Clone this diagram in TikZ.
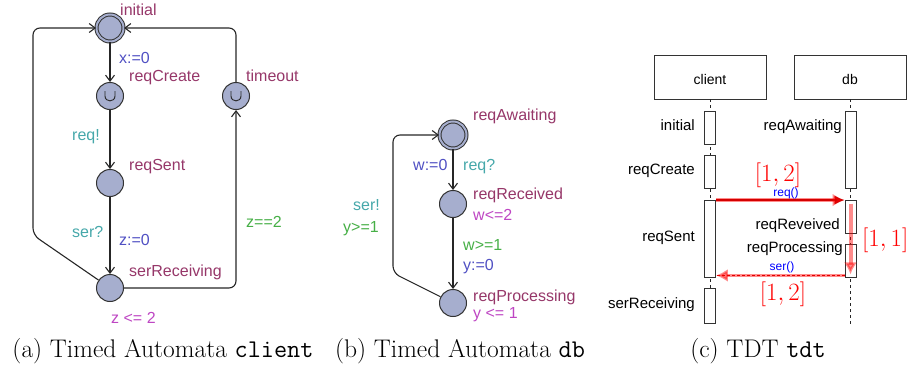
\documentclass[tikz,border=0pt]{standalone}
\usepackage{fontspec}
\newfontfamily\lsans{Liberation Sans}
\usetikzlibrary{arrows.meta}
\definecolor{locfill}{RGB}{166,174,206}
\definecolor{locname}{RGB}{150,55,105}
\definecolor{syncc}{RGB}{70,168,170}
\definecolor{assignc}{RGB}{80,80,195}
\definecolor{guardc}{RGB}{70,175,70}
\definecolor{invc}{RGB}{190,70,195}
\begin{document}
\begin{tikzpicture}[x=1pt,y=-1pt,
  loc/.style={circle,draw=black!80,fill=locfill,line width=1pt,minimum size=27pt,inner sep=0pt},
  initloc/.style={loc,double=locfill,double distance=2pt},
  edge/.style={draw=black!85,line width=1.1pt,rounded corners=7pt,-{Straight Barb[length=6pt,width=9pt]}},
  lab/.style={font=\lsans\fontsize{16}{18}\selectfont,anchor=base west,inner sep=0pt},
  nm/.style={lab,text=locname},
  sy/.style={lab,text=syncc},
  as/.style={lab,text=assignc},
  gd/.style={lab,text=guardc},
  iv/.style={lab,text=invc},
  sq/.style={font=\lsans\fontsize{15}{17}\selectfont,inner sep=0pt},
  sqr/.style={sq,anchor=base east},
  obj/.style={draw=black!80,line width=0.9pt,minimum width=112pt,minimum height=44pt,inner sep=0pt},
  act/.style={draw=black!80,fill=white,line width=0.9pt,minimum width=11pt,inner sep=0pt},
  life/.style={draw=black!85,dashed,dash pattern=on 3pt off 3pt,line width=0.8pt},
  msg/.style={font=\lsans\fontsize{12}{14}\selectfont,text=blue,anchor=base,inner sep=0pt},
  intv/.style={text=red,font=\fontsize{24}{28}\selectfont,inner sep=0pt},
  captext/.style={font=\fontsize{25.5}{28}\selectfont,anchor=base,inner sep=0pt}
]
\useasboundingbox (0,0) rectangle (907,364);
% ---------- (a) client ----------
\node[initloc] (ini) at (110,28) {};
\node[loc] (rc) at (110,96) {};
\node[loc] (to) at (236,96) {};
\node[loc] (rs) at (110,183) {};
\node[loc] (sr) at (110,288) {};
\foreach \n in {rc,to}{
  \draw[line width=0.9pt,black!85] ([xshift=-5pt,yshift=5pt]\n.center) -- ([xshift=-5pt]\n.center)
    .. controls ([xshift=-5pt,yshift=-6.5pt]\n.center) and ([xshift=5pt,yshift=-6.5pt]\n.center) .. ([xshift=5pt]\n.center)
    -- ([xshift=5pt,yshift=5pt]\n.center);
}
\draw[edge] (ini) -- (rc);
\draw[edge] (rc) -- (rs);
\draw[edge] (rs) -- (sr);
\coordinate (la1) at (33,235);
\coordinate (la2) at (33,28);
\draw[edge] (sr) -- (la1) -- (la2) -- (ini);
\coordinate (ra1) at (236,288);
\draw[edge] (sr) -- (ra1) -- (to);
\coordinate (ra2) at (236,28);
\draw[edge] (to) -- (ra2) -- (ini);
\node[nm] (t1) at (120,15) {initial};
\node[as] (t2) at (119,63) {x:=0};
\node[nm] (t3) at (129,81) {reqCreate};
\node[nm] (t4) at (246,81) {timeout};
\node[sy] (t5) at (72,140) {req!};
\node[nm] (t6) at (129,170) {reqSent};
\node[sy] (t7) at (72,237) {ser?};
\node[as] (t8) at (119,245) {z:=0};
\node[gd] (t9) at (246,227) {z==2};
\node[nm] (t10) at (129,276) {serReceiving};
\node[iv] (t11) at (111,323) {z <= 2};
\node[captext] (capa) at (163,357) {(a) Timed Automata \texttt{client}};
% ---------- (b) db ----------
\node[initloc] (ra) at (453,135) {};
\node[loc] (rr) at (453,204) {};
\node[loc] (rp) at (453,303) {};
\draw[edge] (ra) -- (rr);
\draw[edge] (rr) -- (rp);
\coordinate (lb1) at (393,273);
\coordinate (lb2) at (393,135);
\draw[edge] (rp) -- (lb1) -- (lb2) -- (ra);
\node[nm] (u1) at (473,120) {reqAwaiting};
\node[as] (u2) at (413,170) {w:=0};
\node[sy] (u3) at (463,170) {req?};
\node[nm] (u4) at (473,199) {reqReceived};
\node[iv] (u5) at (473,220) {w<=2};
\node[gd] (u6) at (463,250) {w>=1};
\node[as] (u7) at (463,270) {y:=0};
\node[nm] (u8) at (473,301) {reqProcessing};
\node[iv] (u9) at (473,318) {y <= 1};
\node[sy] (u10) at (353,210) {ser!};
\node[gd] (u11) at (343,232) {y>=1};
\node[captext] (capb) at (460,357) {(b) Timed Automata \texttt{db}};
% ---------- (c) tdt ----------
\node[obj] (cl) at (710,77) {};
\node[obj] (db) at (850,77) {};
\node[font=\lsans\fontsize{14}{16}\selectfont,anchor=base,inner sep=0pt] (cln) at (710,84) {client};
\node[font=\lsans\fontsize{14}{16}\selectfont,anchor=base,inner sep=0pt] (dbn) at (850,84) {db};
\coordinate (clend) at (710,326);
\coordinate (dbend) at (850.5,324);
\draw[life] (cl.south) -- (clend);
\draw[life] ([xshift=0.5pt]db.south) -- (dbend);
\node[act,minimum height=33pt] (ci) at (710,127.5) {};
\node[act,minimum height=33pt] (cc) at (710,171.5) {};
\node[act,minimum height=77pt] (cs) at (710,238.5) {};
\node[act,minimum height=35pt] (cr) at (710,305.5) {};
\node[act,minimum height=77pt] (da) at (850.5,149.5) {};
\node[act,minimum height=33pt] (dr) at (850.5,216.5) {};
\node[act,minimum height=33pt] (dp) at (850.5,260.5) {};
\node[sqr] (v1) at (695,130) {initial};
\node[sqr] (v2) at (695,174) {reqCreate};
\node[sqr] (v3) at (695,241) {reqSent};
\node[sqr] (v4) at (695,308) {serReceiving};
\node[sqr] (v5) at (842,130) {reqAwaiting};
\node[sqr] (v6) at (840,229) {reqReveived};
\node[sqr] (v7) at (843,252) {reqProcessing};
% req() message
\draw[red!70!black,line width=1.6pt,-{Latex[length=10pt,width=9pt]}] ([yshift=-0.5pt]cs.north east) -- ([yshift=-0.5pt]dr.north west);
\draw[red,opacity=0.45,line width=3.5pt,-{Latex[length=12pt,width=13pt]}] ([yshift=-0.5pt]cs.north east) -- ([yshift=-0.5pt]dr.north west);
\node[msg] (m1) at (786,196) {req()};
% internal duration
\draw[red,opacity=0.45,line width=4pt,-{Latex[length=12pt,width=13pt]}] ([yshift=-4pt]dr.north) -- ([yshift=3pt]dp.south);
% ser() message
\draw[red!80!black,dashed,dash pattern=on 3pt off 2pt,line width=1pt] ([yshift=2pt]dp.south west) -- ([yshift=2pt]cs.south east);
\draw[red,opacity=0.45,line width=3.5pt,-{Latex[length=12pt,width=13pt]}] ([yshift=2pt]dp.south west) -- ([yshift=2pt]cs.south east);
\node[msg] (m2) at (782,270) {ser()};
\node[intv,anchor=base] (i1) at (778,181) {$[1,2]$};
\node[intv,anchor=base west] (i2) at (862,246) {$[1,1]$};
\node[intv,anchor=base] (i3) at (783,300) {$[1,2]$};
\node[captext] (capc) at (758,357) {(c) TDT \texttt{tdt}};
\end{tikzpicture}
\end{document}
